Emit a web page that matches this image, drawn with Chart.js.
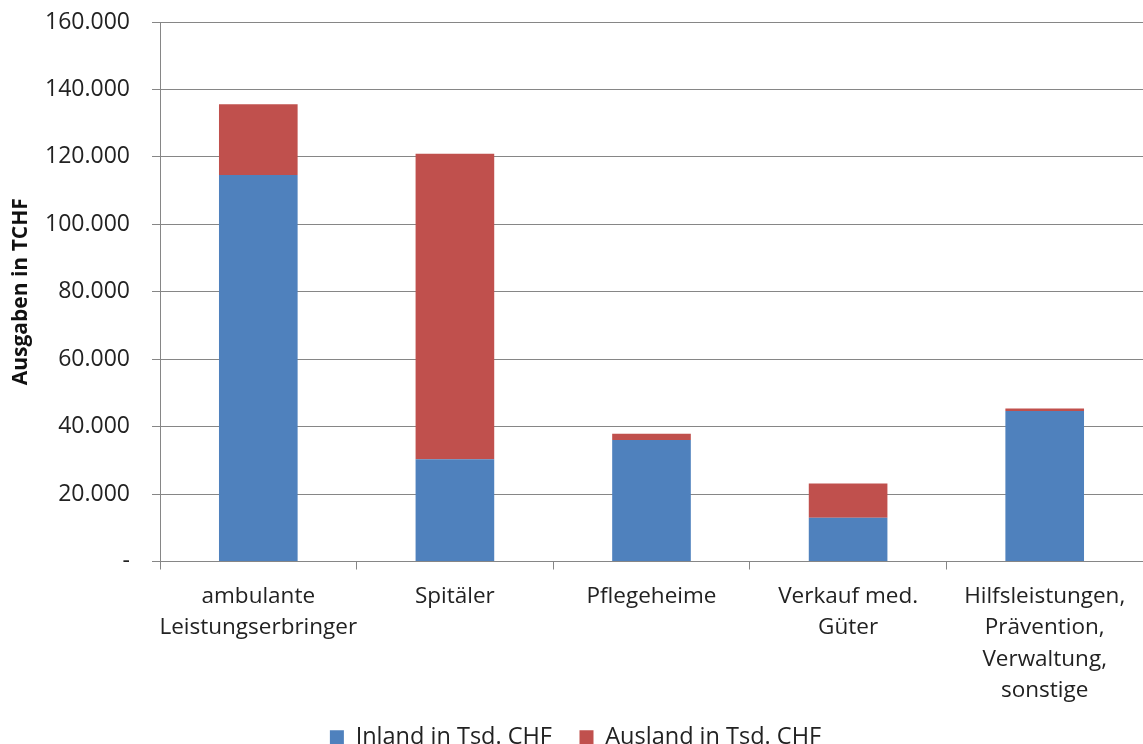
<!DOCTYPE html>
<html><head><meta charset="utf-8">
<script src="https://cdn.jsdelivr.net/npm/chart.js@4/dist/chart.umd.min.js"></script>
<style>html,body{margin:0;padding:0;background:#fff}#wrap{width:1143px;height:744px}</style>
</head><body><div id="wrap"><canvas id="c" width="1143" height="744"></canvas></div>
<script>
const categories = [
  ["ambulante", "Leistungserbringer"],
  ["Spitäler"],
  ["Pflegeheime"],
  ["Verkauf med.", "Güter"],
  ["Hilfsleistungen,", "Prävention,", "Verwaltung,", "sonstige"]
];
const inland = [114600, 30300, 36000, 13000, 44600];
const ausland = [21000, 90600, 1900, 10100, 800];
const seriesNames = ["Inland in Tsd. CHF", "Ausland in Tsd. CHF"];
const yTickValues = [0, 20000, 40000, 60000, 80000, 100000, 120000, 140000, 160000];
const yTickLabels = ["-", "20.000", "40.000", "60.000", "80.000", "100.000", "120.000", "140.000", "160.000"];
const yTitle = "Ausgaben in TCHF";

const FONT = "'Open Sans', Lato, sans-serif";
new Chart(document.getElementById('c'), {
  type: 'bar',
  data: {
    labels: categories,
    datasets: [
      {label: seriesNames[0], data: inland, backgroundColor: '#4F81BD', barPercentage: 0.4, categoryPercentage: 1},
      {label: seriesNames[1], data: ausland, backgroundColor: '#C0504D', barPercentage: 0.4, categoryPercentage: 1}
    ]
  },
  options: {
    responsive: false,
    animation: false,
    layout: {padding: {top: 22, right: -8, left: 0, bottom: -15}},
    plugins: {
      tooltip: {enabled: false},
      legend: {
        position: 'bottom',
        labels: {
          font: {family: FONT, size: 23.5}, color: '#222', boxWidth: 14, boxHeight: 14, padding: 4,
          generateLabels: chart => {
            const items = Chart.defaults.plugins.legend.labels.generateLabels(chart);
            items.forEach((it, i) => { if (i < items.length - 1) it.text = it.text + '\u2003'; });
            return items;
          }
        }
      }
    },
    scales: {
      x: {
        stacked: true,
        grid: {drawOnChartArea: false, drawTicks: true, tickLength: 8, offset: true, color: '#868686'},
        border: {color: '#868686'},
        ticks: {font: {family: FONT, size: 22.5, lineHeight: 1.38}, color: '#222', padding: 12, maxRotation: 0, autoSkip: false},
        afterFit: s => { s.height = 160; }
      },
      y: {
        stacked: true,
        min: 0, max: 160000,
        afterBuildTicks: s => { s.ticks = yTickValues.map(v => ({value: v})); },
        grid: {color: '#868686', tickLength: 8},
        border: {color: '#868686'},
        ticks: {
          font: {family: FONT, size: 23}, color: '#222', padding: 22,
          callback: v => yTickLabels[yTickValues.indexOf(v)]
        },
        title: {display: true, text: yTitle, font: {family: FONT, size: 21, weight: 'bold'}, color: '#111', padding: {top: 8, bottom: 0}},
        afterFit: s => { s.width = 160; s.paddingTop = 0; s.paddingBottom = 0; }
      }
    }
  }
});
</script></body></html>
